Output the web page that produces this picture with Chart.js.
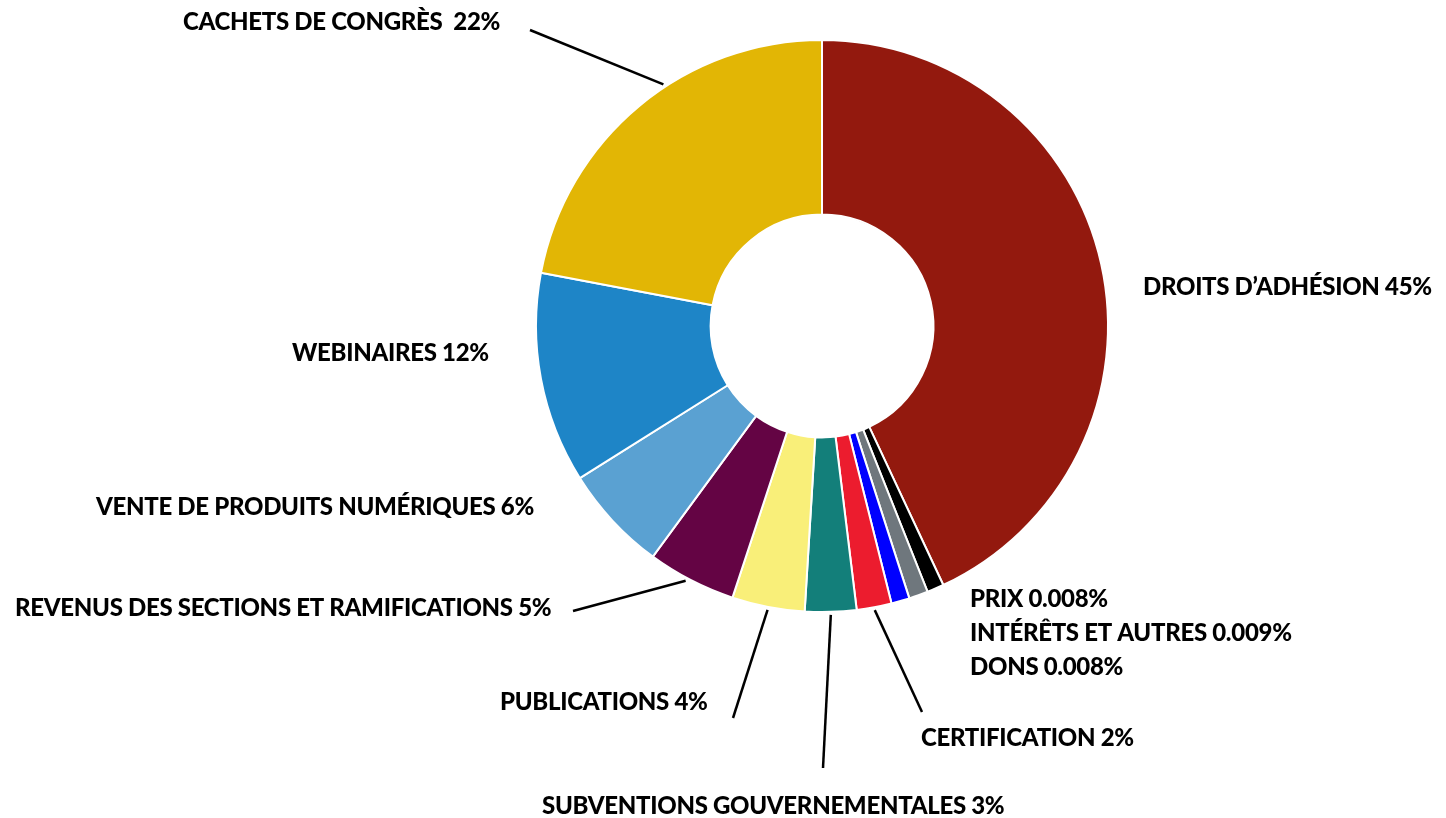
<!DOCTYPE html>
<html>
<head>
<meta charset="utf-8">
<script src="https://cdn.jsdelivr.net/npm/chart.js@4"></script>
<style>
    html, body { margin: 0; padding: 0; background: #fff; }
    #wrap { width: 1446px; height: 818px; position: relative; }
</style>
</head>
<body>
<div id="wrap"><canvas id="myChart"></canvas></div>
<script>
// données (en % de l'arc)
const categories = [
    "DROITS D’ADHÉSION", "PRIX", "INTÉRÊTS ET AUTRES", "DONS", "CERTIFICATION",
    "SUBVENTIONS GOUVERNEMENTALES", "PUBLICATIONS", "REVENUS DES SECTIONS ET RAMIFICATIONS",
    "VENTE DE PRODUITS NUMÉRIQUES", "WEBINAIRES", "CACHETS DE CONGRÈS"
];
const valeurs = [43, 0.95, 1.08, 1.03, 1.97, 2.9, 4.1, 5.0, 6.0, 11.9, 22.0];
const etiquettes = [
    "DROITS D’ADHÉSION 45%", "PRIX 0.008%", "INTÉRÊTS ET AUTRES 0.009%", "DONS 0.008%",
    "CERTIFICATION 2%", "SUBVENTIONS GOUVERNEMENTALES 3%", "PUBLICATIONS 4%",
    "REVENUS DES SECTIONS ET RAMIFICATIONS 5%", "VENTE DE PRODUITS NUMÉRIQUES 6%",
    "WEBINAIRES 12%", "CACHETS DE CONGRÈS  22%"
];
const couleurs = [
    "#93190e", "#000000", "#6f777d", "#0000ff", "#ec1c2e",
    "#137f7a", "#f9ef79", "#640444", "#5aa1d2", "#1e85c7", "#e2b605"
];

// placement des textes (x gauche, y milieu) et des traits de rappel
const posTextes = [
    [1143, 287], [970, 599], [970, 633], [970, 667], [921, 738],
    [542, 806], [500, 702], [15, 608], [96, 507], [292, 353], [183, 22]
];
// index -> [fraction le long de l'arc, x fin, y fin]
const traits = {
    10: [0.58, 530, 30],
    7: [0.55, 573, 611],
    6: [0.5, 733, 718],
    5: [0.5, 823, 768],
    4: [0.5, 922, 712]
};

const pluginEtiquettes = {
    id: "etiquettes",
    afterDatasetsDraw(chart) {
        const ctx = chart.ctx;
        const meta = chart.getDatasetMeta(0);
        ctx.save();
        ctx.strokeStyle = "#000";
        ctx.lineWidth = 2.5;
        Object.keys(traits).forEach(k => {
            const arc = meta.data[k];
            const [f, xe, ye] = traits[k];
            const a = arc.startAngle + (arc.endAngle - arc.startAngle) * f;
            const r = arc.outerRadius + 3;
            ctx.beginPath();
            ctx.moveTo(arc.x + Math.cos(a) * r, arc.y + Math.sin(a) * r);
            ctx.lineTo(xe, ye);
            ctx.stroke();
        });
        ctx.fillStyle = "#000";
        ctx.font = "900 24px Lato";
        ctx.textAlign = "left";
        ctx.textBaseline = "middle";
        if ("letterSpacing" in ctx) ctx.letterSpacing = "-0.3px";
        etiquettes.forEach((t, i) => {
            ctx.fillText(t, posTextes[i][0], posTextes[i][1]);
        });
        ctx.restore();
    }
};

document.addEventListener("DOMContentLoaded", iniciar);

function iniciar() {
    const canvas = document.getElementById("myChart");
    new Chart(canvas, {
        type: "doughnut",
        data: {
            labels: categories,
            datasets: [{
                data: valeurs,
                backgroundColor: couleurs,
                borderColor: "#ffffff",
                borderWidth: 2
            }]
        },
        options: {
            responsive: true,
            maintainAspectRatio: false,
            animation: false,
            radius: 286,
            cutout: 111,
            layout: { padding: { left: 536, right: 338, top: 40, bottom: 206 } },
            plugins: {
                legend: { display: false },
                tooltip: { enabled: false }
            }
        },
        plugins: [pluginEtiquettes]
    });
}
</script>
</body>
</html>
